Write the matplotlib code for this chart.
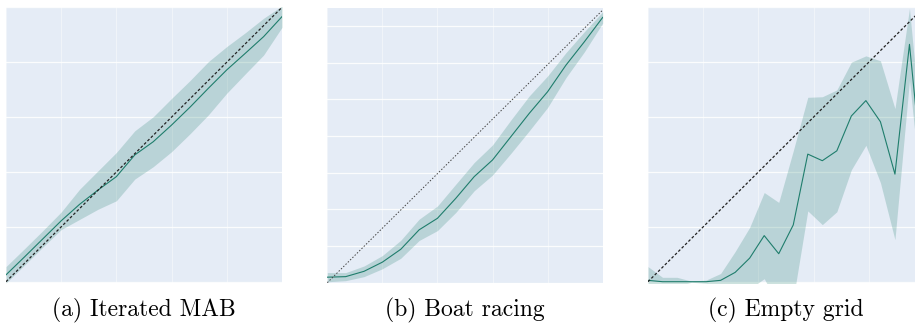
import numpy as np
import matplotlib
matplotlib.use("Agg")
import matplotlib.pyplot as plt

# ---------------- data ----------------
captions = ["(a) Iterated MAB", "(b) Boat racing", "(c) Empty grid"]

# (a) Iterated MAB: 16 points on x in [0, 1]
a_mean = [0.025, 0.09, 0.156, 0.222, 0.282, 0.334, 0.383, 0.462, 0.51, 0.571,
          0.636, 0.705, 0.772, 0.832, 0.893, 0.966]
a_std = [0.03, 0.03, 0.03, 0.032, 0.055, 0.07, 0.088, 0.088, 0.091, 0.097,
         0.097, 0.097, 0.085, 0.075, 0.067, 0.039]

# (b) Boat racing: 16 points on x in [0, 1]
b_mean = [0.3, 0.33, 0.62, 1.12, 1.82, 2.88, 3.51, 4.6, 5.78, 6.69,
          7.96, 9.23, 10.41, 11.86, 13.13, 14.46]
b_std = [0.25, 0.22, 0.29, 0.36, 0.49, 0.58, 0.67, 0.77, 0.77, 0.82,
         0.91, 0.95, 0.86, 0.68, 0.55, 0.31]
b_diag_end = 14.86

# (c) Empty grid: 20 points on x in [0, 1]
c_mean = [0.005, 0.0, 0.0, 0.0, 0.0, 0.005, 0.034, 0.086, 0.168, 0.102,
          0.207, 0.465, 0.441, 0.477, 0.604, 0.66, 0.583, 0.392, 0.865, 0.33]
c_std = [0.05, 0.016, 0.016, 0.002, 0.006, 0.025, 0.076, 0.112, 0.157, 0.187,
         0.27, 0.207, 0.233, 0.222, 0.196, 0.163, 0.222, 0.239, 0.131, 0.11]

# ---------------- style ----------------
BG = "#E5ECF6"
LINE = "#1f7d6c"
W, H = 915, 323

fig = plt.figure(figsize=(W / 100, H / 100), dpi=100)


def make_ax(left_px, top_px, right_px, bottom_px):
    return fig.add_axes([left_px / W, 1 - bottom_px / H,
                         (right_px - left_px) / W, (bottom_px - top_px) / H])


panels = [
    dict(mean=a_mean, std=a_std, diag=1.0, ylim=(-0.0047, 1.0),
         yticks=np.arange(0, 1.01, 0.2), box=(6, 7.3, 282, 283),
         dash=dict(ls=(0, (2.2, 1.6)), lw=0.9, color="#222222")),
    dict(mean=b_mean, std=b_std, diag=b_diag_end, ylim=(-0.033, 15.0),
         yticks=np.arange(0, 15, 2), box=(327.3, 7.5, 602.7, 283.3),
         dash=dict(ls=(0, (1.5, 1.8)), lw=0.7, color="#444444")),
    dict(mean=c_mean, std=c_std, diag=1.0, ylim=(-0.0047, 1.0),
         yticks=np.arange(0, 1.01, 0.2), box=(648, 7.3, 924, 283),
         dash=dict(ls=(0, (2.2, 1.6)), lw=0.9, color="#222222")),
]

for p, cap in zip(panels, captions):
    ax = make_ax(*p["box"])
    m = np.array(p["mean"])
    s = np.array(p["std"])
    x = np.linspace(0, 1, len(m))
    ax.set_facecolor(BG)
    ax.fill_between(x, m - s, m + s, color=LINE, alpha=0.22, lw=0, zorder=2)
    ax.plot(x, m, color=LINE, lw=0.8, zorder=3)
    ax.plot([0, 1], [0, p["diag"]], zorder=4, **p["dash"])
    ax.set_xlim(0, 1)
    ax.set_ylim(*p["ylim"])
    ax.set_xticks(np.arange(0, 1.01, 0.2))
    ax.set_yticks(p["yticks"])
    ax.xaxis.grid(True, color="white", lw=0.7, alpha=0.45, zorder=1)
    ax.yaxis.grid(True, color="white", lw=0.9, alpha=0.85, zorder=1)
    ax.set_axisbelow(True)
    ax.tick_params(length=0, labelbottom=False, labelleft=False)
    for sp in ax.spines.values():
        sp.set_visible(False)
    l, t, r, b = p["box"]
    cx = (l + r) / 2
    fig.text(cx / W, 1 - 316.3 / H, cap, ha="center", va="baseline",
             fontsize=17.0, family="cmr10")

fig.savefig("out.png", dpi=100)
